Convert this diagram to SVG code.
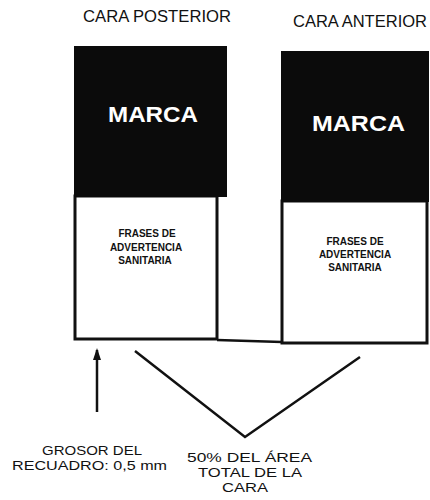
<svg xmlns="http://www.w3.org/2000/svg" width="430" height="500" viewBox="0 0 430 500">
<defs>
<marker id="ah" markerWidth="12" markerHeight="8" refX="10" refY="4" orient="auto" markerUnits="userSpaceOnUse" viewBox="0 0 12 8">
<path d="M12,4 L0,0 L0,8 Z" fill="#111"/>
</marker>
</defs>
<style>
.hdr{font-family:"Liberation Sans",Arial,sans-serif;font-size:16px;fill:#111}
.marca{font-family:"Liberation Sans",Arial,sans-serif;font-size:22px;font-weight:900;fill:#fff}
.frase{font-family:"Liberation Sans",Arial,sans-serif;font-size:10px;font-weight:bold;fill:#111;text-anchor:middle}
.note{font-family:"Liberation Sans",Arial,sans-serif;font-size:13px;fill:#111}
.blk{fill:#0b0b0b}
.box{fill:#fff;stroke:#111;stroke-width:3}
.conn{stroke:#111;stroke-width:2.5;fill:none}
</style>
<rect width="430" height="500" fill="#fff"/>

<g id="titulo-posterior"><text class="hdr" x="83" y="22" textLength="148" lengthAdjust="spacingAndGlyphs">CARA POSTERIOR</text></g>
<g id="titulo-anterior"><text class="hdr" x="293" y="27" textLength="134" lengthAdjust="spacingAndGlyphs">CARA ANTERIOR</text></g>

<g id="cara-posterior">
<rect class="box" x="75" y="196" width="142" height="143"/>
<rect class="blk" x="74" y="46" width="153" height="151"/>
<text class="marca" x="108" y="122" textLength="90" lengthAdjust="spacingAndGlyphs">MARCA</text>
<text class="frase" x="147" y="237">FRASES DE</text>
<text class="frase" x="146" y="251">ADVERTENCIA</text>
<text class="frase" x="145" y="264">SANITARIA</text>
</g>

<g id="cara-anterior">
<rect class="box" x="282" y="201" width="145" height="142"/>
<rect class="blk" x="281" y="51" width="148" height="151"/>
<text class="marca" x="312" y="131" textLength="93" lengthAdjust="spacingAndGlyphs">MARCA</text>
<text class="frase" x="355" y="245">FRASES DE</text>
<text class="frase" x="355" y="258">ADVERTENCIA</text>
<text class="frase" x="355" y="271">SANITARIA</text>
</g>

<g id="connectors">
<line class="conn" x1="217" y1="340" x2="282" y2="342"/>
<line class="conn" x1="97" y1="412" x2="97" y2="350" marker-end="url(#ah)"/>
<polyline class="conn" points="135,351 245,437 360,357"/>
</g>

<g id="nota-grosor">
<text class="note" x="42" y="455" textLength="100" lengthAdjust="spacingAndGlyphs">GROSOR DEL</text>
<text class="note" x="12" y="470" textLength="155" lengthAdjust="spacingAndGlyphs">RECUADRO: 0,5 mm</text>
</g>
<g id="nota-area">
<text class="note" x="187" y="462" textLength="125" lengthAdjust="spacingAndGlyphs">50% DEL ÁREA</text>
<text class="note" x="198" y="477" textLength="104" lengthAdjust="spacingAndGlyphs">TOTAL DE LA</text>
<text class="note" x="222" y="492" textLength="46" lengthAdjust="spacingAndGlyphs">CARA</text>
</g>
</svg>
